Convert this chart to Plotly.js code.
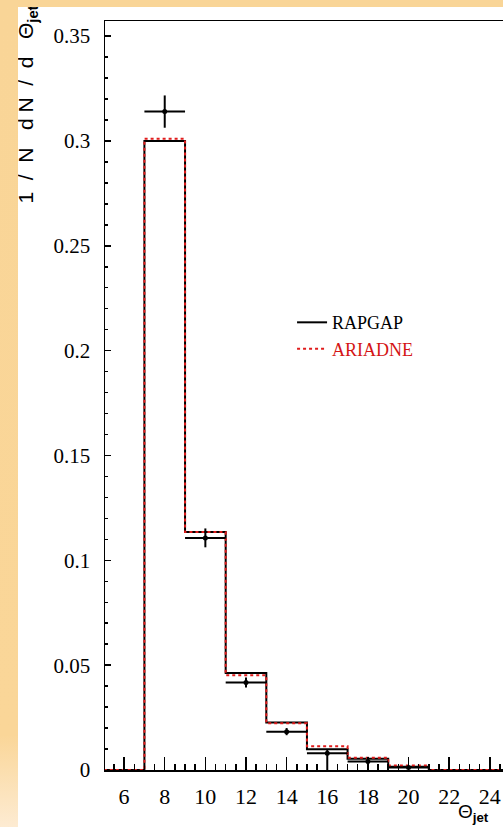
<!DOCTYPE html>
<html>
<head>
<meta charset="utf-8">
<script src="https://cdn.plot.ly/plotly-3.0.1.min.js"></script>
<style>
  html, body { margin: 0; padding: 0; }
  body {
    width: 503px; height: 827px; overflow: hidden; position: relative;
    background: linear-gradient(to bottom, #f9d597 0px, #fad698 735px, #fdebd2 827px);
  }
  #plot { position: absolute; left: 18px; top: 7px; width: 485px; height: 820px; background: #fff; }
  #plot .xtick text, #plot .ytick text { font-family: 'Liberation Serif', 'Times New Roman', serif !important; }
</style>
</head>
<body>
<div id="plot"></div>
<script>
// Bin edges of the jet polar-angle histogram (degrees)
const binEdges = [5, 7, 9, 11, 13, 15, 17, 19, 21, 23, 25];

// Monte Carlo predictions, one value per bin
const rapgap  = [0, 0.300, 0.1135, 0.0462, 0.0226, 0.0099, 0.0054, 0.0015, 0, 0];
const ariadne = [0, 0.301, 0.1135, 0.0452, 0.0223, 0.0113, 0.0059, 0.0021, 0, 0];

// Measured points (bin centres) with statistical errors
const dataX      = [8, 10, 12, 14, 16, 18, 20];
const dataY      = [0.314, 0.1107, 0.0417, 0.0183, 0.0080, 0.0040, 0.0012];
const dataErrUp  = [0.0077, 0.0045, 0.0024, 0.0017, 0.0020, 0.0013, 0.0005];
const dataErrLo  = [0.0077, 0.0045, 0.0024, 0.0017, 0.0080, 0.0013, 0.0005];
const dataHalfW  = [1, 1, 1, 1, 1, 1, 1];

const xTickVals = [6, 8, 10, 12, 14, 16, 18, 20, 22, 24];
const xTickText = ['6', '8', '10', '12', '14', '16', '18', '20', '22', '24'];
const yTickVals = [0, 0.05, 0.1, 0.15, 0.2, 0.25, 0.3, 0.35];
const yTickText = ['0', '0.05', '0.1', '0.15', '0.2', '0.25', '0.3', '0.35'];

// step outline: repeat the last bin value so the 'hv' line reaches the final edge
function stepY(vals) { return vals.concat([vals[vals.length - 1]]); }

const RED = '#e01c1c';
const SERIF = 'Liberation Serif, Times New Roman, serif';
const SANS = 'Liberation Sans, Arial, sans-serif';

const traces = [
  {
    x: binEdges, y: stepY(rapgap), type: 'scatter', mode: 'lines',
    line: { shape: 'hv', color: '#000', width: 2 },
    name: 'RAPGAP', legendgroup: 'a', hoverinfo: 'skip'
  },
  {
    x: binEdges, y: stepY(ariadne), type: 'scatter', mode: 'lines',
    line: { shape: 'hv', color: RED, width: 2, dash: '3px,3px' },
    name: '<span style="color:#d41414">ARIADNE</span>', legendgroup: 'b', hoverinfo: 'skip'
  },
  {
    x: dataX, y: dataY, type: 'scatter', mode: 'markers',
    marker: { color: '#000', size: 5 },
    error_y: { type: 'data', array: dataErrUp, arrayminus: dataErrLo, symmetric: false,
               color: '#000', thickness: 2, width: 0 },
    error_x: { type: 'data', array: dataHalfW, color: '#000', thickness: 2, width: 0 },
    showlegend: false, hoverinfo: 'skip', cliponaxis: false
  }
];

const layout = {
  width: 485, height: 820,
  margin: { l: 87, r: 0, t: 14, b: 57, pad: 0 },
  paper_bgcolor: '#fff', plot_bgcolor: '#fff',
  font: { family: SERIF, color: '#000' },
  showlegend: true,
  legend: {
    x: 0.47, y: 0.622, xanchor: 'left', yanchor: 'top',
    bgcolor: 'rgba(0,0,0,0)', borderwidth: 0,
    font: { family: SERIF, size: 18, color: '#000' },
    tracegroupgap: 0
  },
  xaxis: {
    range: [5.06, 24.65], showgrid: false, zeroline: false,
    showline: true, linecolor: '#000', linewidth: 1.5, mirror: true,
    tickmode: 'array', tickvals: xTickVals, ticktext: xTickText,
    ticks: 'inside', ticklen: 13, tickwidth: 1.5, tickcolor: '#000',
    minor: { dtick: 0.5, tick0: 5, ticks: 'inside', ticklen: 6, tickwidth: 1.5, tickcolor: '#000' },
    tickfont: { family: SERIF, size: 22, color: '#000' },
    ticklabelstandoff: 6
  },
  yaxis: {
    range: [0, 0.3572], showgrid: false, zeroline: false,
    showline: true, linecolor: '#000', linewidth: 1.5, mirror: false,
    tickmode: 'array', tickvals: yTickVals, ticktext: yTickText,
    ticks: 'inside', ticklen: 6, tickwidth: 1.5, tickcolor: '#000',
    minor: { dtick: 0.01, tick0: 0, ticks: 'inside', ticklen: 3, tickwidth: 1.5, tickcolor: '#000' },
    tickfont: { family: SERIF, size: 21, color: '#000' },
    ticklabelstandoff: 9
  },
  annotations: [
    {
      xref: 'paper', yref: 'paper', x: -0.195, y: 0.889,
      xanchor: 'center', yanchor: 'middle', textangle: -90, showarrow: false,
      text: '1&nbsp;&nbsp;/&nbsp;&nbsp;N&nbsp;&nbsp;&nbsp;d&nbsp;N&nbsp;&nbsp;/&nbsp;&nbsp;d&nbsp;&nbsp;&nbsp;Θ<sub><b>jet</b></sub>',
      font: { family: SANS, size: 21, color: '#000' }
    },
    {
      xref: 'paper', yref: 'paper', x: 0.926, y: -0.058,
      xanchor: 'center', yanchor: 'middle', showarrow: false,
      text: 'Θ<sub><b>jet</b></sub>',
      font: { family: SANS, size: 19, color: '#000' }
    }
  ]
};

Plotly.newPlot('plot', traces, layout, { staticPlot: true, displayModeBar: false });
</script>
</body>
</html>
